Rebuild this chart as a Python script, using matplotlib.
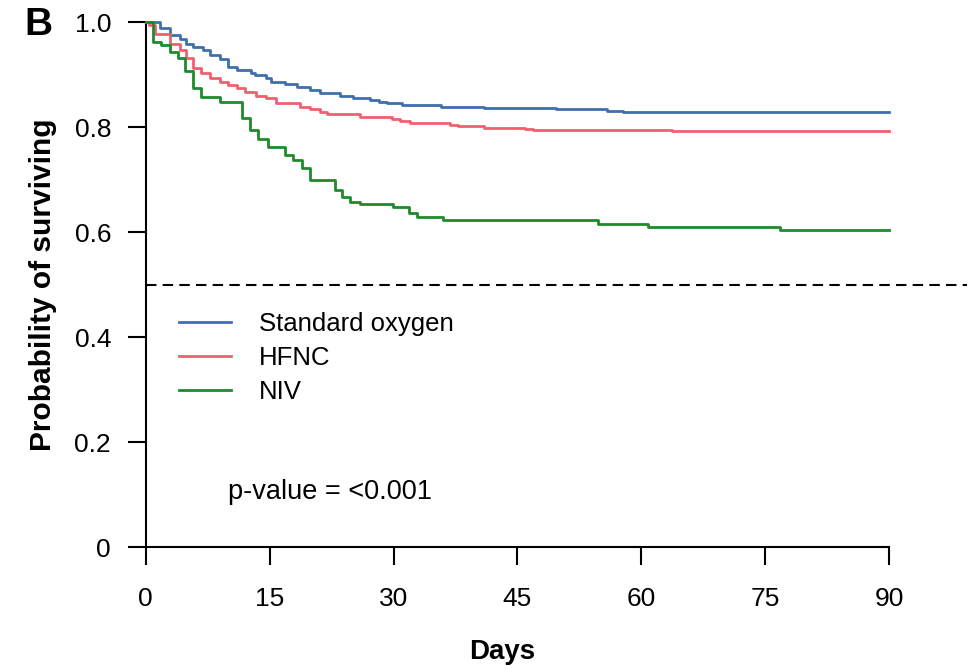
import matplotlib
matplotlib.use('Agg')
import matplotlib.pyplot as plt

plt.rcParams['font.family'] = ['Liberation Sans', 'DejaVu Sans']

# Kaplan-Meier step points (days, survival probability)
std_days = [0, 1.7, 2.9, 4.1, 4.9, 5.7, 6.9, 7.8, 9.0, 10.0, 11.0, 12.8, 13.2, 14.6, 15.2, 16.8,
            18.3, 19.9, 21.1, 23.5, 25.1, 27.1, 28.3, 29.2, 31.0, 35.8, 38.8, 40.9, 49.7, 55.8, 57.8, 90]
std_surv = [1.0, 0.988, 0.975, 0.967, 0.959, 0.953, 0.947, 0.937, 0.929, 0.915, 0.909, 0.902, 0.899,
            0.893, 0.886, 0.882, 0.876, 0.870, 0.864, 0.859, 0.855, 0.851, 0.848, 0.845, 0.842, 0.839,
            0.838, 0.836, 0.834, 0.831, 0.829, 0.829]

hfnc_days = [0, 0.4, 1.1, 2.9, 4.1, 4.9, 5.7, 6.7, 7.8, 9.0, 10.0, 11.0, 12.0, 13.4, 14.6, 15.8, 18.7,
             19.9, 21.1, 21.9, 25.9, 29.8, 30.8, 32.0, 36.8, 37.8, 40.9, 45.9, 46.9, 63.7, 90]
hfnc_surv = [1.0, 0.994, 0.978, 0.959, 0.947, 0.931, 0.912, 0.902, 0.893, 0.886, 0.880, 0.874, 0.867,
             0.859, 0.855, 0.845, 0.839, 0.834, 0.829, 0.825, 0.819, 0.815, 0.811, 0.807, 0.804, 0.801,
             0.799, 0.796, 0.794, 0.792, 0.792]

niv_days = [0, 0.9, 1.9, 2.9, 3.9, 4.7, 5.7, 6.7, 9.0, 11.7, 12.6, 13.6, 14.8, 16.8, 17.8, 18.9, 19.9,
            22.9, 23.7, 24.7, 25.9, 29.9, 31.9, 32.9, 36.0, 54.8, 60.8, 76.8, 90]
niv_surv = [1.0, 0.961, 0.956, 0.943, 0.931, 0.907, 0.874, 0.857, 0.848, 0.817, 0.794, 0.778, 0.762,
            0.747, 0.737, 0.721, 0.699, 0.680, 0.667, 0.658, 0.653, 0.648, 0.636, 0.629, 0.622, 0.615,
            0.610, 0.603, 0.603]

labels = ['Standard oxygen', 'HFNC', 'NIV']
colors = ['#3f70ae', '#f0606f', '#1f8a2c']

x_ticks = [0, 15, 30, 45, 60, 75, 90]
y_ticks = [0, 0.2, 0.4, 0.6, 0.8, 1.0]
y_ticklabels = ['0', '0.2', '0.4', '0.6', '0.8', '1.0']

fig = plt.figure(figsize=(9.72, 6.65), dpi=100)
ax = fig.add_axes([0.150, 0.1774, 0.7646, 0.7895])

series = [(std_days, std_surv), (hfnc_days, hfnc_surv), (niv_days, niv_surv)]
for (d, s), lab, col in zip(series, labels, colors):
    ax.step(d, s, where='post', color=col, lw=2.0, label=lab, clip_on=False, zorder=3)

# median line, runs past the right edge of the axes
ax.plot([0, 99.5], [0.5, 0.5], color='black', lw=1.5, ls=(0, (5, 3)), clip_on=False)

ax.set_xlim(0, 90)
ax.set_ylim(0, 1.0)
ax.set_xticks(x_ticks)
ax.set_yticks(y_ticks)
ax.set_yticklabels(y_ticklabels)

for side in ['top', 'right']:
    ax.spines[side].set_visible(False)
for side in ['left', 'bottom']:
    ax.spines[side].set_linewidth(1.5)
ax.tick_params(direction='out', length=13, width=1.5, labelsize=19)
ax.tick_params(axis='x', pad=16)
ax.tick_params(axis='y', pad=12)

ax.set_xlabel('Days', fontsize=20, fontweight='bold')
ax.xaxis.set_label_coords(0.48, -0.176)
ax.set_ylabel('Probability of surviving', fontsize=21.5, fontweight='bold')
ax.yaxis.set_label_coords(-0.12, 0.5)

ax.legend(loc='upper left', bbox_to_anchor=(0.045, 0.448), frameon=False, fontsize=18.5,
          handlelength=2.0, handletextpad=1.1, labelspacing=0.4, borderpad=0, borderaxespad=0)

ax.text(9.9, 0.105, 'p-value = <0.001', fontsize=19.5, va='center', ha='left')

fig.text(38 / 972, 1 - 25 / 665, 'B', fontsize=28, fontweight='bold', ha='center', va='center')

fig.savefig('out.png', dpi=100)
